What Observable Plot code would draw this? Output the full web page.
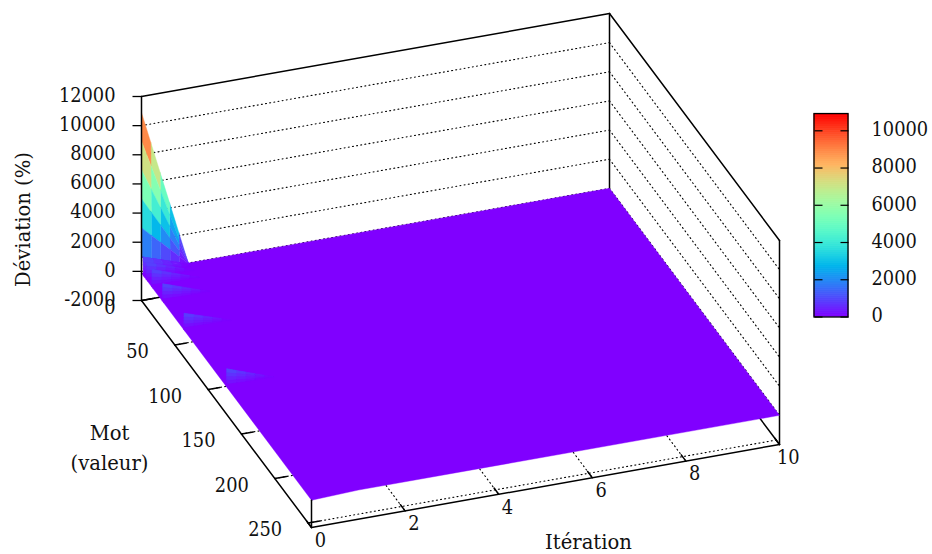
<!DOCTYPE html>
<html><head><meta charset="utf-8">
<style>html,body{margin:0;padding:0;background:#fff}svg{display:block}</style>
<script src="https://cdn.jsdelivr.net/npm/d3@7"></script>
<script src="https://cdn.jsdelivr.net/npm/@observablehq/plot@0.6"></script>
</head><body><div id="chart"></div>
<script>
// --- data ---
const spikeWords  = [0, 1, 2, 4, 8, 16, 32, 64, 128];      // word values with a large deviation at iteration 0
const spikeValues = [10900, 1030, 1100, 1100, 1100, 1100, 1100, 1030, 1130];
const otherWordsAtStart = -130;   // deviation of every other word at iteration 0 (0 from iteration 1 on)
const iterTicks = [0, 2, 4, 6, 8, 10];
const wordTicks = [0, 50, 100, 150, 200, 250];
const devTicks  = [-2000, 0, 2000, 4000, 6000, 8000, 10000, 12000];
const barTicks  = [0, 2000, 4000, 6000, 8000, 10000];
const iterMax = 10, wordMax = 255, devMin = -2000, devMax = 12000, colorMax = 10900;

// orthographic view of the gnuplot box
const project = (it, w, d) => ({
  x: 141 + it * 46.8 + w * (170 / 255),
  y: 300 - it * 8.3 + w * (227 / 255) - (d - devMin) * (204 / 14000)
});
const bar = {x1: 814, x2: 848, y: v => 316.5 - v * 0.01862};

const rainbow = t => {
  const c = v => Math.round(255 * Math.max(0, Math.min(1, v)));
  return `rgb(${c(Math.abs(2 * t - 0.5))},${c(Math.sin(Math.PI * t))},${c(Math.cos(Math.PI * t / 2))})`;
};

// surface: flat plane + the subdivided cells (5x5, as pm3d interpolate) around each spike
const spike = new Map(spikeWords.map((w, i) => [w, spikeValues[i]]));
const dev0 = w => {
  const a = Math.floor(w), f = w - a;
  return (spike.get(a) ?? otherWordsAtStart) * (1 - f) + (spike.get(a + 1) ?? otherWordsAtStart) * f;
};
const dev = (w, it) => dev0(w) * (1 - it);
const polys = [];
let pid = 0;
const addPoly = (corners, value) => {
  const id = pid++;
  [...corners, corners[0]].forEach(([it, w, d]) => {
    const p = project(it, w, d);
    polys.push({id, value, x: p.x, y: p.y});
  });
};
addPoly([
  [0, 0, otherWordsAtStart], [1, 0, 0], [iterMax, 0, 0],
  [iterMax, wordMax, 0], [1, wordMax, 0], [0, wordMax, otherWordsAtStart]
], 0);
const cellWords = [...new Set(spikeWords.flatMap(w => [w - 1, w]))].filter(w => w >= 0).sort((a, b) => a - b);
const N = 5;
for (const w of cellWords) {
  for (let r = 0; r < N; r++) {
    for (let c = N - 1; c >= 0; c--) {
      const w0 = w + r / N, w1 = w + (r + 1) / N, i0 = c / N, i1 = (c + 1) / N;
      const q = [[i0, w0], [i1, w0], [i1, w1], [i0, w1]].map(([it, ww]) => [it, ww, dev(ww, it)]);
      addPoly(q, d3.mean(q, d => d[2]));
    }
  }
}

// helpers for lines in 3D
const seg = (a, b, key) => [a, b].map(([it, w, d]) => ({...project(it, w, d), key}));
const segs = list => list.flatMap((s, i) => seg(s[0], s[1], i));

const gridBack = segs(devTicks.filter(d => d > devMin && d < devMax).flatMap(d => [
  [[0, 0, d], [iterMax, 0, d]],
  [[iterMax, 0, d], [iterMax, wordMax, d]]
]));
const gridBase = segs([
  ...wordTicks.map(w => [[0, w, devMin], [iterMax, w, devMin]]),
  ...iterTicks.slice(1, -1).map(it => [[it, 0, devMin], [it, wordMax, devMin]])
]);
const borderUnder = segs([
  [[0, 0, devMin], [iterMax, 0, devMin]],
  [[iterMax, 0, devMin], [iterMax, wordMax, devMin]],
  [[iterMax, 0, 0], [iterMax, 0, devMax]],
  [[0, 0, devMax], [iterMax, 0, devMax]],
  [[iterMax, 0, devMax], [iterMax, wordMax, devMax]],
  [[iterMax, wordMax, devMin], [iterMax, wordMax, devMax]]
]);
const borderOver = segs([
  [[0, 0, devMin], [0, 0, devMax]],
  [[0, 0, devMin], [0, wordMax, devMin]],
  [[0, wordMax, devMin], [iterMax, wordMax, devMin]],
  [[0, wordMax, devMin], [0, wordMax, otherWordsAtStart]],
  ...wordTicks.map(w => [[0, w, devMin], [0.25, w, devMin]]),
  ...iterTicks.map(it => [[it, wordMax, devMin], [it, wordMax - 7, devMin]])
]);
const devTickRows = devTicks.map(d => {
  const p = project(0, 0, d);
  return {x1: p.x - 9, x2: p.x, y: p.y};
});

const barRows = d3.range(0, 300).map(i => {
  const a = colorMax * i / 300, b = colorMax * (i + 1) / 300;
  return {v: (a + b) / 2, y1: bar.y(a), y2: bar.y(b)};
});

const numFont = "'DejaVu Serif Condensed','DejaVu Serif'", wordFont = "'DejaVu Serif'";
const txt = (rows, o) => Plot.text(rows, {x: "x", y: "y", text: "t", fill: "#111", fontFamily: numFont, fontSize: 19.8, ...o});
const lbl = (rows, o) => txt(rows, {fontFamily: wordFont, fontSize: 19.6, ...o});

const chart = Plot.plot({
  width: 932, height: 554,
  marginTop: 0, marginRight: 0, marginBottom: 0, marginLeft: 0,
  x: {domain: [0, 932], range: [0, 932], axis: null},
  y: {domain: [0, 554], range: [0, 554], axis: null},
  color: {type: "linear", domain: [0, colorMax], interpolate: rainbow},
  style: {background: "#fff"},
  marks: [
    Plot.line(gridBack, {x: "x", y: "y", z: "key", stroke: "#000", strokeWidth: 1.1, strokeDasharray: "1,3.2"}),
    Plot.line(gridBase, {x: "x", y: "y", z: "key", stroke: "#000", strokeWidth: 1.1, strokeDasharray: "1,3.2"}),
    Plot.line(borderUnder, {x: "x", y: "y", z: "key", stroke: "#000", strokeWidth: 1.5}),
    Plot.line(polys, {x: "x", y: "y", z: "id", fill: "value", stroke: "value", strokeWidth: 0.4}),
    Plot.line(borderOver, {x: "x", y: "y", z: "key", stroke: "#000", strokeWidth: 1.5}),
    Plot.link(devTickRows, {x1: "x1", x2: "x2", y1: "y", y2: "y", stroke: "#000", strokeWidth: 1.3}),
    // colour box
    Plot.rect(barRows, {x1: bar.x1, x2: bar.x2, y1: "y1", y2: "y2", fill: "v", inset: -0.3}),
    Plot.rect([{y1: bar.y(0) + 0.5, y2: bar.y(colorMax)}], {x1: bar.x1, x2: bar.x2, y1: "y1", y2: "y2", stroke: "#000", strokeWidth: 1.3, fill: "none"}),
    Plot.link(barTicks.flatMap(v => [[bar.x1, bar.x1 + 8, v], [bar.x2 - 8, bar.x2, v]]), {x1: "0", x2: "1", y1: d => bar.y(d[2]), y2: d => bar.y(d[2]), stroke: "#000", strokeWidth: 1.2}),
    // labels
    txt(devTicks.map(d => ({...project(0, 0, d), t: String(d)})), {textAnchor: "end", dx: -26, dy: -1}),
    txt(wordTicks.map(w => ({...project(0, w, devMin), t: String(w)})), {textAnchor: "end", dx: -26, dy: 7}),
    txt(iterTicks.map(it => ({...project(it, wordMax, devMin), t: String(it)})), {textAnchor: "middle", dx: 8.8, dy: 13}),
    txt(barTicks.map(v => ({x: 871, y: bar.y(v), t: String(v)})), {textAnchor: "start", dy: -1}),
    lbl([{x: 23, y: 219, t: "Déviation (%)"}], {rotate: -90}),
    lbl([{x: 109, y: 433, t: "Mot"}, {x: 109, y: 463, t: "(valeur)"}, {x: 588, y: 542, t: "Itération"}], {})
  ]
});
document.getElementById("chart").append(chart);
</script></body></html>
